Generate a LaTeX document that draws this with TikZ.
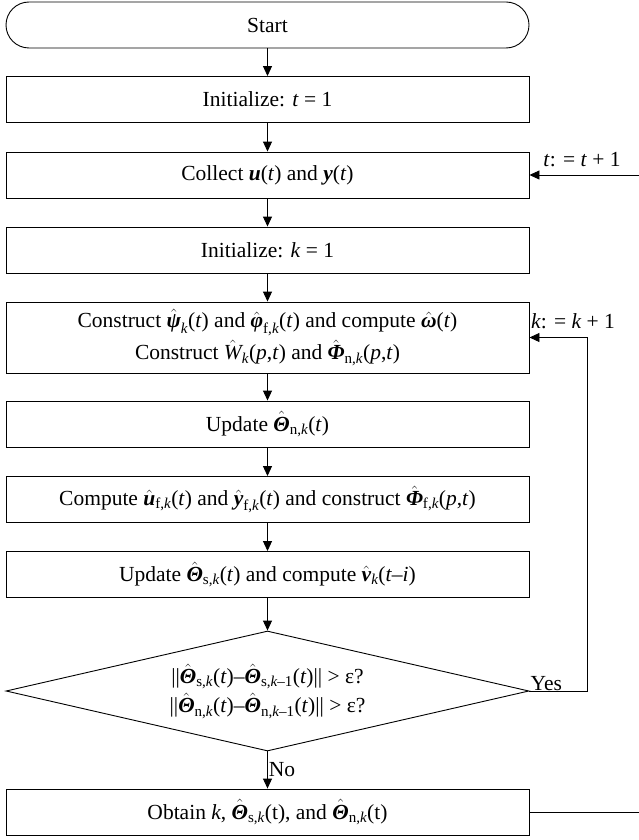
\documentclass[tikz,border=0pt]{standalone}
\usepackage{fontspec}
\setmainfont{Liberation Serif}
\usepackage{amsmath}
\usetikzlibrary{arrows.meta,shapes.geometric}

% hatted bold-italic symbol with an upright/italic subscript
\newcommand{\hsub}[2]{\ensuremath{\hat{\text{\bfseries\itshape #1}}_{\text{#2}}}}
% hatted plain-italic symbol with subscript
\newcommand{\hsubi}[2]{\ensuremath{\hat{\text{\itshape #1}}_{\text{#2}}}}
% hatted bold-italic symbol, no subscript
\newcommand{\hbold}[1]{\ensuremath{\hat{\text{\bfseries\itshape #1}}}}
\newcommand{\ti}[1]{\textit{#1}}
\newcommand{\tbi}[1]{\textbf{\textit{#1}}}

\begin{document}
\begin{tikzpicture}[x=1pt,y=-1pt,
  every node/.style={font=\fontsize{21.5}{25}\selectfont},
  box/.style={draw, line width=0.9pt, minimum width=523pt, minimum height=46pt,
              inner sep=0pt, align=center},
  test/.style={diamond, draw, line width=0.9pt, minimum width=523pt,
               minimum height=120pt, aspect=4.36, inner sep=0pt, align=center},
  link/.style={line width=0.9pt, -{Triangle[length=10pt,width=9pt]}},
  plain/.style={line width=0.9pt},
  tag/.style={inner sep=1pt}]
\useasboundingbox (0,0) rectangle (639,840);

% main column
\node[box, rounded corners=23pt] (start) at (267.5,25) {Start};
\node[box] (initt) at (267.5,99.5) {Initialize: \ti{t} = 1};
\node[box] (collect) at (267.5,175) {Collect \tbi{u}(\ti{t}) and \tbi{y}(\ti{t})};
\node[box] (initk) at (267.5,250) {Initialize: \ti{k} = 1};
\node[box, minimum height=71pt] (build) at (267.5,337.5)
  {Construct \hsub{ψ}{\itshape k}(\ti{t}) and \hsub{φ}{f,\itshape k}(\ti{t}) and compute \hbold{ω}(\ti{t})\\[4pt]
   Construct \hsubi{W}{\itshape k}(\ti{p},\ti{t}) and \hsub{Φ}{n,\itshape k}(\ti{p},\ti{t})};
\node[box] (updn) at (267.5,424) {Update \hsub{Θ}{n,\itshape k}(\ti{t})};
\node[box] (comp) at (267.5,499.5)
  {Compute \hsub{u}{f,\itshape k}(\ti{t}) and \hsub{y}{f,\itshape k}(\ti{t}) and construct \hsub{Φ}{f,\itshape k}(\ti{p},\ti{t})};
\node[box] (upds) at (267.5,574.5)
  {Update \hsub{Θ}{s,\itshape k}(\ti{t}) and compute \hsub{v}{\itshape k}(\ti{t}–\ti{i})};
\node[test] (check) at (267.5,691)
  {||\hsub{Θ}{s,\itshape k}(\ti{t})–\hsub{Θ}{s,\itshape k\upshape–1}(\ti{t})|| > ε?\\[3pt]
   ||\hsub{Θ}{n,\itshape k}(\ti{t})–\hsub{Θ}{n,\itshape k\upshape–1}(\ti{t})|| > ε?};
\node[box] (obtain) at (267.5,812)
  {Obtain \ti{k}, \hsub{Θ}{s,\itshape k}(t), and \hsub{Θ}{n,\itshape k}(t)};

% downward flow
\draw[link] (start) -- (initt);
\draw[link] (initt) -- (collect);
\draw[link] (collect) -- (initk);
\draw[link] (initk) -- (build);
\draw[link] (build) -- (updn);
\draw[link] (updn) -- (comp);
\draw[link] (comp) -- (upds);
\draw[link] (upds) -- (check);
\draw[link] (check) -- node[right, tag] (no) {No} (obtain);

% inner loop over k
\coordinate (kturn) at (587,691);
\coordinate (ktop) at (587,337.5);
\draw[link] (check.east) -- (kturn) -- (ktop) -- (build.east);
\node[tag, anchor=base west] (yes) at ([yshift=1pt]check.east) {Yes};
\node[tag] (klab) at (573,321) {\ti{k}: = \ti{k} + 1};

% outer loop over t
\coordinate (tin) at (639,175);
\coordinate (tout) at (639,812);
\draw[link] (tin) -- (collect.east);
\draw[plain] (obtain.east) -- (tout);
\node[tag] (tlab) at (582,160) {\ti{t}: = \ti{t} + 1};
\end{tikzpicture}
\end{document}
